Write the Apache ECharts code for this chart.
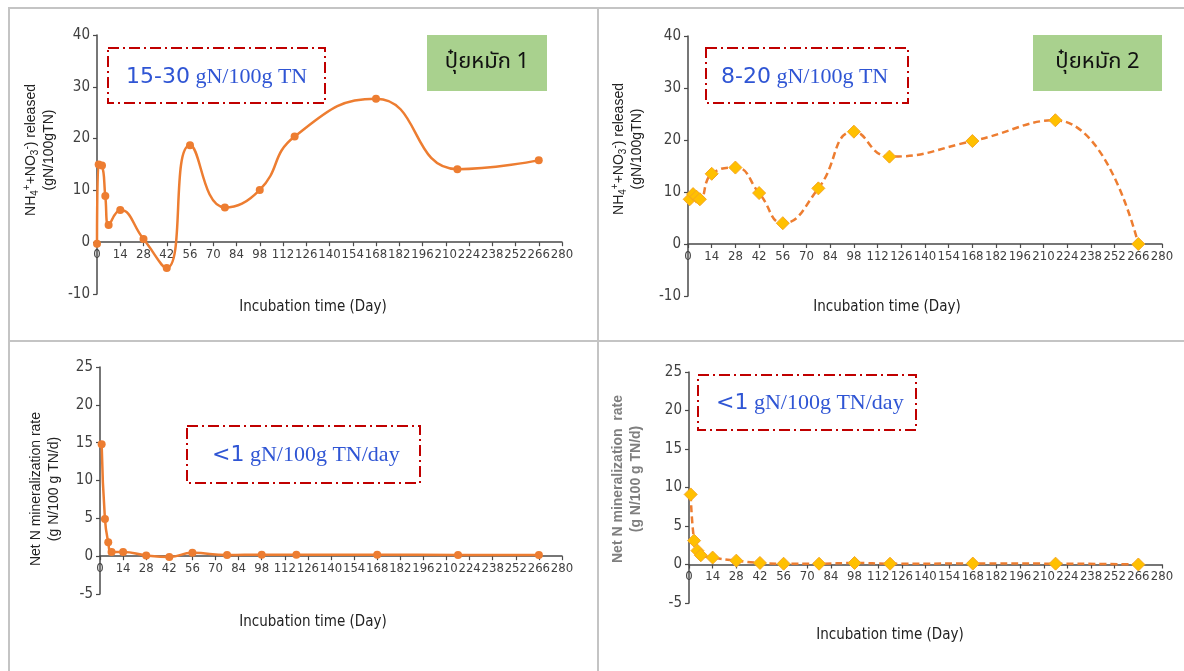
<!DOCTYPE html>
<html>
<head>
<meta charset="utf-8">
<script src="https://cdn.jsdelivr.net/npm/echarts@6/dist/echarts.min.js"></script>
<style>
html,body{margin:0;padding:0;background:#fff;}
#c{width:1184px;height:671px;}
</style>
</head>
<body>
<div id="c"></div>
<script>
// ---- data ----
const days1 = [0, 1, 3, 5, 7, 14, 28, 42, 56, 77, 98, 119, 168, 217, 266];
const release1 = [-0.3, 15.0, 14.8, 8.9, 3.3, 6.2, 0.6, -5.0, 18.7, 6.7, 10.1, 20.4, 27.7, 14.1, 15.8];
const days2 = [1, 3, 5, 7, 14, 28, 42, 56, 77, 98, 119, 168, 217, 266];
const release2 = [8.6, 9.6, 9.1, 8.6, 13.5, 14.7, 9.8, 4.0, 10.7, 21.6, 16.8, 19.8, 23.8, 0];
const rateDays1 = [1, 3, 5, 7, 14, 28, 42, 56, 77, 98, 119, 168, 217, 266];
const rate1 = [14.8, 4.9, 1.85, 0.55, 0.55, 0.1, -0.1, 0.45, 0.15, 0.2, 0.2, 0.2, 0.15, 0.15];
const rateDays2 = [1, 3, 5, 7, 14, 28, 42, 56, 77, 98, 119, 168, 217, 266];
const rate2 = [9.1, 3.1, 1.8, 1.2, 0.9, 0.5, 0.2, 0.1, 0.1, 0.2, 0.1, 0.12, 0.11, 0];
const compostLabels = ['ปุ๋ยหมัก 1', 'ปุ๋ยหมัก 2'];
const rangeLabels = [['15-30', ' gN/100g TN'], ['8-20', ' gN/100g TN'], ['<1', ' gN/100g TN/day'], ['<1', ' gN/100g TN/day']];
const xTitle = 'Incubation time (Day)';

const zip = (a, b) => a.map((v, i) => [v, b[i]]);

const NARROW = '"Liberation Sans Narrow","DejaVu Sans Condensed","Liberation Sans",sans-serif';
const SANS = '"Liberation Sans",Arial,sans-serif';
const THAI = '"Noto Sans Thai","Noto Sans","DejaVu Sans",sans-serif';
const axisCol = '#4a4a4a';
const orange = '#ED7D31';

const grids = [
  {left: 97, top: 35, width: 465, height: 259},
  {left: 688, top: 36, width: 474, height: 260},
  {left: 100, top: 367, width: 462, height: 227},
  {left: 689, top: 372, width: 473, height: 231}
];
const yRanges = [[-10, 40, 10], [-10, 40, 10], [-5, 25, 5], [-5, 25, 5]];

function xAx(i) {
  const r = yRanges[i];
  const off = -grids[i].height * (0 - r[0]) / (r[1] - r[0]);
  return {
    gridIndex: i, type: 'value', min: 0, max: 280, interval: 14,
    position: 'bottom', offset: off,
    axisLine: {onZero: false, lineStyle: {color: axisCol, width: 1.5}},
    axisTick: {show: true, length: 4, lineStyle: {color: axisCol, width: 1.2}},
    axisLabel: {color: '#404040', fontFamily: NARROW, fontSize: 13, margin: 6, interval: 0,
                showMinLabel: true, showMaxLabel: true, hideOverlap: false},
    splitLine: {show: false}
  };
}
function yAx(i) {
  const r = yRanges[i];
  return {
    gridIndex: i, type: 'value', min: r[0], max: r[1], interval: r[2],
    axisLine: {show: true, lineStyle: {color: axisCol, width: 1.5}},
    axisTick: {show: true, length: 4, lineStyle: {color: axisCol, width: 1.2}},
    axisLabel: {color: '#404040', fontFamily: NARROW, fontSize: 15, margin: 7,
                showMinLabel: true, showMaxLabel: true, hideOverlap: false},
    splitLine: {show: false}
  };
}

const solidSeries = (i, data) => ({
  type: 'line', xAxisIndex: i, yAxisIndex: i, data: data, smooth: 0.5,
  symbol: 'circle', symbolSize: 8,
  lineStyle: {color: orange, width: 2.5},
  itemStyle: {color: orange},
  z: 3
});
const dashedSeries = (i, data) => ({
  type: 'line', xAxisIndex: i, yAxisIndex: i, data: data, smooth: 0.5,
  symbol: 'diamond', symbolSize: 13,
  lineStyle: {color: orange, width: 2.5, type: [7, 4]},
  itemStyle: {color: '#FFC000', borderColor: '#F5A623', borderWidth: 1},
  z: 3
});

function dashBox(x, y, w, h) {
  return {
    type: 'rect', shape: {x: x, y: y, width: w, height: h}, z: 10,
    style: {fill: 'none', stroke: '#C00000', lineWidth: 2, lineDash: [11, 4, 2, 4]}
  };
}
function rangeText(x, y, parts) {
  return {
    type: 'text', x: x, y: y, z: 11,
    style: {
      text: '{a|' + parts[0] + '}{b|' + parts[1] + '}',
      verticalAlign: 'middle', align: 'left',
      rich: {
        a: {fontFamily: '"DejaVu Sans",sans-serif', fontSize: 22, fill: '#2F55D4'},
        b: {fontFamily: '"Liberation Serif","DejaVu Serif",serif', fontSize: 22, fill: '#2F55D4'}
      }
    }
  };
}
function greenBox(x, y, w, h, label) {
  return [
    {type: 'rect', shape: {x: x, y: y, width: w, height: h}, z: 10, style: {fill: '#A9D18E'}},
    {type: 'text', x: x + w / 2, y: y + h / 2 + 1, z: 11,
     style: {text: label, fontFamily: THAI, fontSize: 22, fill: '#111', align: 'center', verticalAlign: 'middle'}}
  ];
}
const ytitleRich = {
  n: {fontFamily: SANS, fontSize: 14, fill: '#222', verticalAlign: 'middle', lineHeight: 18},
  sub: {fontFamily: SANS, fontSize: 10, fill: '#222', verticalAlign: 'bottom', lineHeight: 18},
  sup: {fontFamily: SANS, fontSize: 10, fill: '#222', verticalAlign: 'top', lineHeight: 18}
};
function yTitleNH(x, y) {
  return {
    type: 'text', x: x, y: y, rotation: Math.PI / 2, z: 11,
    style: {
      text: '{n|NH}{sub|4}{sup|+}{n|+NO}{sub|3}{sup|-}{n|) released}\n{n|(gN/100gTN)}',
      align: 'center', verticalAlign: 'middle', rich: ytitleRich
    }
  };
}
function yTitleRate(x, y, bold) {
  return {
    type: 'text', x: x, y: y, rotation: Math.PI / 2, z: 11,
    style: {
      text: bold ? 'Net N mineralization  rate\n(g N/100 g TN/d)' : 'Net N mineralization rate\n(g N/100 g TN/d)',
      align: 'center', verticalAlign: 'middle',
      fontFamily: SANS, fontSize: 14, lineHeight: 18,
      fontWeight: bold ? 'bold' : 'normal', fill: bold ? '#7F7F7F' : '#222'
    }
  };
}
function xTitleText(x, y) {
  return {type: 'text', x: x, y: y, z: 11,
    style: {text: xTitle, fontFamily: NARROW, fontSize: 15, fill: '#222', align: 'center', verticalAlign: 'middle'}};
}

const frame = [
  {type: 'rect', shape: {x: 9, y: 8, width: 1200, height: 700}, style: {fill: 'none', stroke: '#C4C4C4', lineWidth: 2}, z: 1},
  {type: 'line', shape: {x1: 598, y1: 8, x2: 598, y2: 700}, style: {stroke: '#C4C4C4', lineWidth: 2}, z: 1},
  {type: 'line', shape: {x1: 9, y1: 341, x2: 1200, y2: 341}, style: {stroke: '#C4C4C4', lineWidth: 2}, z: 1}
];

const graphics = [].concat(
  frame,
  [dashBox(108, 48, 217, 55), rangeText(126, 77, rangeLabels[0])],
  greenBox(427, 35, 120, 56, compostLabels[0]),
  [dashBox(706, 48, 202, 55), rangeText(721, 77, rangeLabels[1])],
  greenBox(1033, 35, 129, 56, compostLabels[1]),
  [dashBox(187, 426, 233, 57), rangeText(212, 455, rangeLabels[2])],
  [dashBox(698, 375, 218, 55), rangeText(716, 403, rangeLabels[3])],
  [yTitleNH(40, 150), yTitleNH(628, 149), yTitleRate(45, 489, false), yTitleRate(627, 479, true)],
  [xTitleText(313, 307), xTitleText(887, 307), xTitleText(313, 622), xTitleText(890, 635)]
);

const chart = echarts.init(document.getElementById('c'), null, {renderer: 'canvas'});
chart.setOption({
  animation: false,
  backgroundColor: '#fff',
  grid: grids,
  xAxis: [xAx(0), xAx(1), xAx(2), xAx(3)],
  yAxis: [yAx(0), yAx(1), yAx(2), yAx(3)],
  series: [
    solidSeries(0, zip(days1, release1)),
    dashedSeries(1, zip(days2, release2)),
    solidSeries(2, zip(rateDays1, rate1)),
    dashedSeries(3, zip(rateDays2, rate2))
  ],
  graphic: graphics
});
</script>
</body>
</html>
